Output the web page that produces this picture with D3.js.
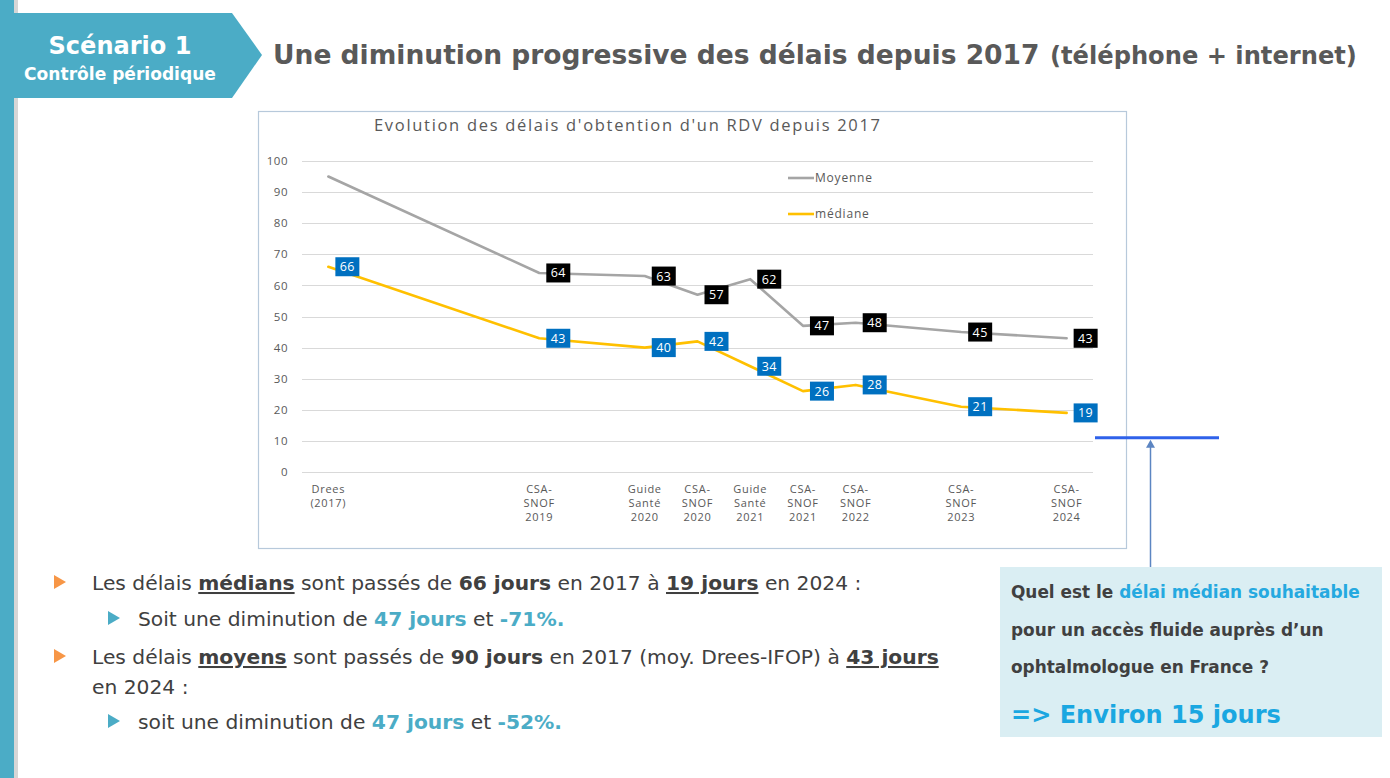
<!DOCTYPE html>
<html>
<head>
<meta charset="utf-8">
<script src="https://cdn.jsdelivr.net/npm/d3@7"></script>
<style>
  html, body { margin: 0; padding: 0; background: #fff; }
  svg { display: block; }
  .slide { font-family: "DejaVu Sans", sans-serif; }
  .chart text { font-family: "Open Sans", "Noto Sans", sans-serif; }
</style>
</head>
<body>
<svg id="slide" class="slide" width="1390" height="778"></svg>
<script>
// Data
const categories = [
  "Drees\n(2017)", "", "", "", "CSA-\nSNOF\n2019", "", "Guide\nSanté\n2020",
  "CSA-\nSNOF\n2020", "Guide\nSanté\n2021", "CSA-\nSNOF\n2021", "CSA-\nSNOF\n2022",
  "", "CSA-\nSNOF\n2023", "", "CSA-\nSNOF\n2024"
];
const moyenne = [95, null, null, null, 64, null, 63, 57, 62, 47, 48, null, 45, null, 43];
const mediane = [66, null, null, null, 43, null, 40, 42, 34, 26, 28, null, 21, null, 19];
const yTicks = [0, 10, 20, 30, 40, 50, 60, 70, 80, 90, 100];
const targetValue = 11; // hand-drawn blue line beside the chart

const svg = d3.select('#slide');

// scale the font of a text (and its sized tspans) so it spans `target` px
function fit(sel, target){
  const k = target / sel.node().getComputedTextLength();
  [sel.node(), ...sel.selectAll('tspan').nodes()].forEach(n => {
    const fs = n.style.fontSize;
    if (fs) n.style.fontSize = (parseFloat(fs) * k) + 'px';
  });
  return k;
}

// ---- slide frame ----
svg.append('rect').attr('x', 14).attr('y', 0).attr('width', 4).attr('height', 778).attr('fill', '#d6d6d6');
svg.append('rect').attr('x', 0).attr('y', 0).attr('width', 14).attr('height', 778).attr('fill', '#4BACC6');
svg.append('path')
  .attr('d', 'M14,13 L232,13 L262,55 L232,98 L14,98 Z')
  .attr('fill', '#4BACC6');
fit(svg.append('text').attr('x', 120).attr('y', 54).attr('text-anchor', 'middle')
  .attr('fill', '#fff').style('font-size', '25px').style('font-weight', 700).text('Scénario 1'), 143);
fit(svg.append('text').attr('x', 120).attr('y', 80).attr('text-anchor', 'middle')
  .attr('fill', '#fff').style('font-size', '17px').style('font-weight', 700).text('Contrôle périodique'), 192);

fit(svg.append('text').attr('x', 273).attr('y', 64).attr('fill', '#595959')
  .style('font-weight', 700).style('font-size', '28px')
  .text('Une diminution progressive des délais depuis 2017'), 767);
fit(svg.append('text').attr('x', 1050).attr('y', 64).attr('fill', '#595959')
  .style('font-weight', 700).style('font-size', '22px')
  .text('(téléphone + internet)'), 307);

// ---- chart ----
const chart = svg.append('g').attr('class', 'chart');
chart.append('rect').attr('x', 258.5).attr('y', 111.5).attr('width', 868).attr('height', 437)
  .attr('fill', '#fff').attr('stroke', '#B7C9DB').attr('stroke-width', 1.2);

chart.append('text').attr('x', 374).attr('y', 131)
  .attr('fill', '#595959').style('font-size', '16.5px')
  .attr('textLength', 506).attr('lengthAdjust', 'spacing')
  .text("Evolution des délais d'obtention d'un RDV depuis 2017");

const x = d3.scaleBand().domain(d3.range(categories.length)).range([302, 1093]);
const cx = i => x(i) + x.bandwidth() / 2;
const y = d3.scaleLinear().domain([0, 100]).range([472, 161]);

// gridlines
chart.append('g').selectAll('line').data(yTicks).join('line')
  .attr('x1', 302).attr('x2', 1093)
  .attr('y1', d => Math.round(y(d)) + 0.5).attr('y2', d => Math.round(y(d)) + 0.5)
  .attr('stroke', '#D9D9D9').attr('stroke-width', 1);

// y axis labels
const yAxis = chart.append('g').attr('transform', 'translate(288,0)')
  .call(d3.axisLeft(y).tickValues(yTicks).tickSize(0).tickPadding(0));
yAxis.select('.domain').remove();
yAxis.selectAll('text').attr('fill', '#595959').style('font-size', '11.5px').style('letter-spacing', '0.5px');

// x axis labels (multi-line, top aligned)
const xl = chart.append('g').selectAll('text').data(categories.map((c, i) => ({ c, i })).filter(d => d.c))
  .join('text').attr('text-anchor', 'middle').attr('fill', '#595959')
  .style('font-size', '11px').style('letter-spacing', '0.7px');
xl.selectAll('tspan').data(d => d.c.split('\n').map(t => ({ t, i: d.i }))).join('tspan')
  .attr('x', d => cx(d.i)).attr('y', (d, k) => 493 + k * 14.2).text(d => d.t);

// lines
const pts = arr => arr.map((v, i) => ({ v, i })).filter(d => d.v != null);
const line = d3.line().x(d => cx(d.i)).y(d => y(d.v));
const series = [
  { name: 'Moyenne', data: pts(moyenne), color: '#A5A5A5', box: '#000000', skipFirst: true },
  { name: 'médiane', data: pts(mediane), color: '#FFC000', box: '#0070C0', skipFirst: false }
];
series.forEach(s => {
  chart.append('path').datum(s.data).attr('d', line)
    .attr('fill', 'none').attr('stroke', s.color).attr('stroke-width', 2.6)
    .attr('stroke-linejoin', 'round').attr('stroke-linecap', 'round');
});

// data labels
series.forEach(s => {
  const g = chart.append('g').selectAll('g').data(s.data.filter((d, k) => !(s.skipFirst && k === 0)))
    .join('g').attr('transform', d => `translate(${cx(d.i) + 7},${y(d.v)})`);
  g.append('rect').attr('x', 0).attr('y', -9.5).attr('width', 24).attr('height', 19).attr('fill', s.box);
  g.append('text').attr('x', 12).attr('y', 4.5).attr('text-anchor', 'middle')
    .attr('fill', '#fff').style('font-size', '12.5px').style('letter-spacing', '0.4px').text(d => d.v);
});

// legend
const leg = chart.append('g').selectAll('g').data(series).join('g')
  .attr('transform', (d, k) => `translate(788,${178 + k * 36})`);
leg.append('line').attr('x1', 0).attr('x2', 26).attr('stroke', d => d.color).attr('stroke-width', 2.6);
leg.append('text').attr('x', 27).attr('y', 4).attr('fill', '#595959')
  .style('font-size', '12px').style('letter-spacing', '0.8px').text(d => d.name);

// ---- annotation: target line + arrow ----
const ty = y(targetValue);
svg.append('line').attr('x1', 1095).attr('x2', 1219).attr('y1', ty).attr('y2', ty)
  .attr('stroke', '#2F62EA').attr('stroke-width', 3);
svg.append('line').attr('x1', 1150.5).attr('x2', 1150.5).attr('y1', 567).attr('y2', ty + 8)
  .attr('stroke', '#5C85C2').attr('stroke-width', 1.5);
svg.append('path').attr('d', `M1150.5,${ty + 2} L1146,${ty + 10} L1155,${ty + 10} Z`).attr('fill', '#5C85C2');

// ---- question box ----
svg.append('rect').attr('x', 1000).attr('y', 567).attr('width', 382).attr('height', 170).attr('fill', '#DAEEF3');
const q = svg.append('g').style('font-weight', 700).attr('fill', '#404040');
const q1 = q.append('text').attr('x', 1011).attr('y', 598).style('font-size', '17px');
q1.append('tspan').text('Quel est le ');
q1.append('tspan').attr('fill', '#25A9E0').text('délai médian souhaitable');
const qk = fit(q1, 349);
q.append('text').attr('x', 1011).attr('y', 636).style('font-size', (17 * qk) + 'px').text('pour un accès fluide auprès d’un');
q.append('text').attr('x', 1011).attr('y', 673).style('font-size', (17 * qk) + 'px').text('ophtalmologue en France ?');
fit(svg.append('text').attr('x', 1011).attr('y', 723).attr('fill', '#1AA7E1')
  .style('font-weight', 700).style('font-size', '28px').text('=> Environ 15 jours'), 270);

// ---- bullets ----
const TXT = '#404040', TEAL = '#4BACC6';
const bullets = [
  { lvl: 0, y: 590, parts: [['Les délais '], ['médians', 'bu'], [' sont passés de '], ['66 jours', 'b'], [' en 2017 à '], ['19 jours', 'bu'], [' en 2024 :']] },
  { lvl: 1, y: 626, parts: [['Soit une diminution de '], ['47 jours', 'c'], [' et '], ['-71%.', 'cb']] },
  { lvl: 0, y: 664, parts: [['Les délais '], ['moyens', 'bu'], [' sont passés de '], ['90 jours', 'b'], [' en 2017 (moy. Drees-IFOP) à '], ['43 jours', 'bu']] },
  { lvl: -1, y: 694, parts: [['en 2024 :']] },
  { lvl: 1, y: 729, parts: [['soit une diminution de '], ['47 jours', 'c'], [' et '], ['-52%.', 'cb']] }
];
const bg = svg.append('g').style('font-size', '20px');
const lines = bullets.map(b => {
  const tx = b.lvl === 1 ? 138 : 92;
  if (b.lvl >= 0) {
    const bx = b.lvl === 1 ? 108 : 54, col = b.lvl === 1 ? TEAL : '#F79646';
    bg.append('path').attr('d', `M${bx},${b.y - 15} L${bx + 12},${b.y - 8} L${bx},${b.y - 1} Z`).attr('fill', col);
  }
  const t = bg.append('text').attr('x', tx).attr('y', b.y).attr('fill', TXT);
  b.parts.forEach(([s, st = '']) => {
    const sp = t.append('tspan').text(s);
    if (st.includes('b')) sp.style('font-weight', 700);
    if (st.includes('u')) sp.style('text-decoration', 'underline');
    if (st.includes('c')) sp.attr('fill', TEAL).style('font-weight', 700);
  });
  return t;
});
// common size so the longest lines match the slide
const bk = (766 + 851) / (lines[0].node().getComputedTextLength() + lines[2].node().getComputedTextLength());
bg.style('font-size', (20 * bk) + 'px');
</script>
</body>
</html>
